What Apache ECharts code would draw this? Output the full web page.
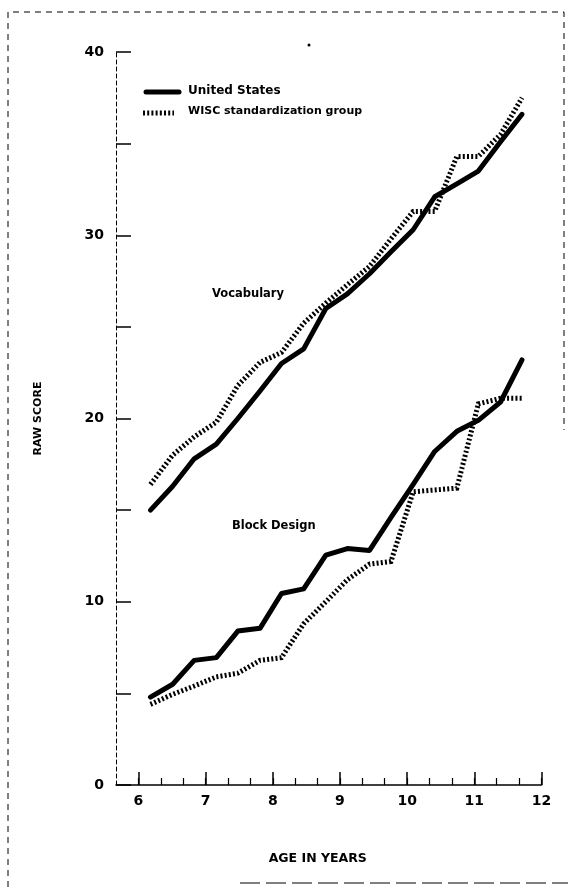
<!DOCTYPE html>
<html>
<head>
<meta charset="utf-8">
<script src="https://cdn.jsdelivr.net/npm/echarts@6/dist/echarts.min.js"></script>
<style>
html,body{margin:0;padding:0;background:#fff;}
#chart{width:568px;height:887px;}
</style>
</head>
<body>
<div id="chart"></div>
<script>
// Ages (years) at which scores are plotted, 4-month steps
var ages = [6.18, 6.51, 6.83, 7.16, 7.48, 7.81, 8.13, 8.46, 8.79, 9.11, 9.44, 9.76, 10.09, 10.41, 10.74, 11.06, 11.39, 11.71];
var vocabUS   = [15.0, 16.3, 17.8, 18.6, 20.0, 21.5, 23.0, 23.8, 26.0, 26.8, 27.9, 29.1, 30.3, 32.1, 32.8, 33.5, 35.1, 36.6];
var vocabWISC = [16.4, 18.0, 19.0, 19.8, 21.8, 23.06, 23.6, 25.2, 26.3, 27.3, 28.3, 29.8, 31.3, 31.3, 34.3, 34.3, 35.5, 37.5];
var blockUS   = [4.8, 5.5, 6.8, 6.95, 8.4, 8.55, 10.45, 10.7, 12.55, 12.9, 12.8, 14.6, 16.4, 18.2, 19.3, 19.9, 20.9, 23.2];
var blockWISC = [4.4, 4.95, 5.4, 5.9, 6.1, 6.8, 6.95, 8.8, 10.0, 11.2, 12.05, 12.2, 16.0, 16.1, 16.2, 20.8, 21.1, 21.1];
var xTickLabels = [6, 7, 8, 9, 10, 11, 12];
var xMinorTicks = [6, 6.3333, 6.6667, 7, 7.3333, 7.6667, 8, 8.3333, 8.6667, 9, 9.3333, 9.6667, 10, 10.3333, 10.6667, 11, 11.3333, 11.6667, 12];
var yLabelled = [0, 10, 20, 30, 40];
var seriesNames = ['United States', 'WISC standardization group'];

function pairs(xs, ys){ return xs.map(function(x,i){ return [x, ys[i]]; }); }

var FONT = 'DejaVu Sans';
var solid = {color:'#000', width:5, type:'solid', cap:'round', join:'round'};
var dotted = {color:'#000', width:5, type:[2,2.2], cap:'butt', join:'miter'};

var chart = echarts.init(document.getElementById('chart'), null, {renderer:'canvas'});
chart.setOption({
  animation:false,
  backgroundColor:'#fff',
  grid:{left:116, right:26.5, top:52, bottom:102, containLabel:false},
  legend:{show:false, data:seriesNames},
  xAxis:[{
    type:'value', min:17/3, max:12, position:'bottom',
    name:'AGE IN YEARS', nameLocation:'middle', nameGap:67,
    nameTextStyle:{fontFamily:FONT, fontSize:12.5, fontWeight:'bold', color:'#000', padding:[0,0,0,-22]},
    axisLine:{show:true, lineStyle:{color:'#000', width:1.5}},
    axisTick:{show:true, inside:true, length:13, customValues:xTickLabels, lineStyle:{color:'#000', width:1.5}},
    axisLabel:{show:true, customValues:xTickLabels, margin:9, fontFamily:FONT, fontSize:14, fontWeight:'bold', color:'#000'},
    splitLine:{show:false}
  },{
    type:'value', min:17/3, max:12, position:'bottom',
    axisLine:{show:false},
    axisTick:{show:true, inside:true, length:7, customValues:xMinorTicks, lineStyle:{color:'#000', width:1.2}},
    axisLabel:{show:false},
    splitLine:{show:false}
  }],
  yAxis:{
    type:'value', min:0, max:40, interval:5,
    name:'RAW SCORE', nameLocation:'middle', nameGap:72, nameRotate:90,
    nameTextStyle:{fontFamily:FONT, fontSize:11, fontWeight:'bold', color:'#000'},
    axisLine:{show:true, lineStyle:{color:'#000', width:1, type:[4,3]}},
    axisTick:{show:true, inside:true, length:15, lineStyle:{color:'#000', width:1.5}},
    axisLabel:{
      margin:12, fontFamily:FONT, fontSize:14, fontWeight:'bold', color:'#000',
      formatter:function(v){ return yLabelled.indexOf(v) >= 0 ? String(v) : ''; }
    },
    splitLine:{show:false}
  },
  series:[
    {name:seriesNames[0], type:'line', data:pairs(ages, vocabUS), symbol:'none', lineStyle:solid, itemStyle:{color:'#000'}},
    {name:seriesNames[1], type:'line', data:pairs(ages, vocabWISC), symbol:'none', lineStyle:dotted, itemStyle:{color:'#000'}},
    {name:seriesNames[0], type:'line', data:pairs(ages, blockUS), symbol:'none', lineStyle:solid, itemStyle:{color:'#000'}},
    {name:seriesNames[1], type:'line', data:pairs(ages, blockWISC), symbol:'none', lineStyle:dotted, itemStyle:{color:'#000'}}
  ],
  graphic:[
    // legend
    {type:'line', shape:{x1:146, y1:92, x2:179, y2:92}, style:{stroke:'#000', lineWidth:5, lineCap:'round'}},
    {type:'text', left:188, top:85, style:{text:seriesNames[0], fontFamily:FONT, fontSize:12, fontWeight:'bold', fill:'#000'}},
    {type:'line', shape:{x1:143, y1:113, x2:174, y2:113}, style:{stroke:'#000', lineWidth:5, lineDash:[2,2.2]}},
    {type:'text', left:188, top:106, style:{text:seriesNames[1], fontFamily:FONT, fontSize:11, fontWeight:'bold', fill:'#000'}},
    // panel labels
    {type:'text', left:212, top:288, style:{text:'Vocabulary', fontFamily:FONT, fontSize:11.5, fontWeight:'bold', fill:'#000'}},
    {type:'text', left:232, top:520, style:{text:'Block Design', fontFamily:FONT, fontSize:11.5, fontWeight:'bold', fill:'#000'}},
    // scanned page frame
    {type:'polyline', shape:{points:[[8,887],[8,12],[564,12],[564,430]]}, style:{stroke:'#000', lineWidth:1, lineDash:[6,5], fill:null}},
    {type:'line', shape:{x1:240, y1:883, x2:568, y2:883}, style:{stroke:'#000', lineWidth:1, lineDash:[20,6]}},
    {type:'circle', shape:{cx:309, cy:45, r:1.5}, style:{fill:'#000'}}
  ]
});
</script>
</body>
</html>
